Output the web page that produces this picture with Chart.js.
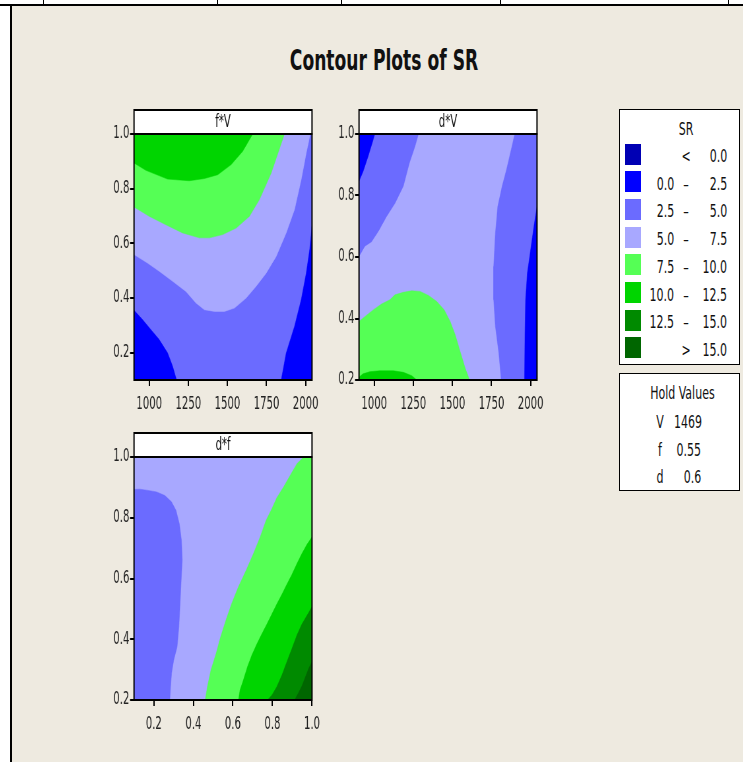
<!DOCTYPE html>
<html>
<head>
<meta charset="utf-8">
<script src="https://cdn.jsdelivr.net/npm/chart.js@4.4.1/dist/chart.umd.min.js"></script>
<style>
  body { margin: 0; width: 743px; height: 762px; position: relative; overflow: hidden; background: #fff;
         font-family: "Liberation Sans Narrow", "DejaVu Sans Condensed", sans-serif; color: #111; }
  #page { position: absolute; left: 11px; top: 6px; right: 0; bottom: 0; background: #EEEAE0; }
  .rule { position: absolute; background: #000; }
  canvas { position: absolute; transform-origin: 0 0; }
  #title { position: absolute; left: 0; width: 768px; top: 47px; text-align: center; font-size: 28px; line-height: 28px;
           font-weight: bold; transform: scaleX(0.68); transform-origin: 384px 0; white-space: nowrap; }
  .box { position: absolute; left: 619px; width: 119px; background: #fff; border: 1.5px solid #000; }
  .txt { position: absolute; font-size: 17px; line-height: 18px; white-space: nowrap; }
  .sw { position: absolute; width: 16px; height: 21px; }
</style>
</head>
<body>
<div id="page"></div>
<div class="rule" style="left:0;top:4px;width:743px;height:2px"></div>
<div class="rule" style="left:10px;top:4px;width:1.5px;height:758px"></div>
<div class="rule" style="left:43px;top:0;width:1px;height:5px"></div>
<div class="rule" style="left:217px;top:0;width:1px;height:5px"></div>
<div class="rule" style="left:341px;top:0;width:1px;height:5px"></div>
<div class="rule" style="left:500px;top:0;width:1px;height:5px"></div>
<div class="rule" style="left:728px;top:0;width:1px;height:5px"></div>
<div id="title">Contour Plots of SR</div>
<canvas id="fv"></canvas>
<canvas id="dv"></canvas>
<canvas id="df"></canvas>
<div class="box" id="legend" style="top:109px;height:254px"></div>
<div class="box" id="hold" style="top:373px;height:116px"></div>
<script>
// SR bands and colours
const srBreaks = ['0.0', '2.5', '5.0', '7.5', '10.0', '12.5', '15.0'];
const srColors = ['#0000B4', '#0000FF', '#6B6BFF', '#A8A8FF', '#55FF55', '#00D500', '#008A00', '#006600'];

// hold values
const holdNames = ['V', 'f', 'd'];
const holdValues = ['1469', '0.55', '0.6'];

// axis ranges and ticks
const vRange = [903, 2041];
const fRange = [0.1, 1.0];
const dRange = [0.2, 1.0];
const vTicks = [1000, 1250, 1500, 1750, 2000];
const fTicksY = [0.2, 0.4, 0.6, 0.8, 1.0];
const dTicks = [0.2, 0.4, 0.6, 0.8, 1.0];
const fTicksX = [0.2, 0.4, 0.6, 0.8, 1.0];

// f*V panel: contour regions (V, f)
const fvBase = [[903, 0.1], [2041, 0.1], [2041, 1.0], [903, 1.0]];
const fvBand3 = [[903, 0.559], [989, 0.528], [1064, 0.498], [1150, 0.461], [1235, 0.424], [1299, 0.382], [1353, 0.357],
  [1417, 0.351], [1481, 0.351], [1545, 0.363], [1620, 0.400], [1684, 0.443], [1748, 0.491], [1812, 0.552],
  [1876, 0.638], [1929, 0.723], [1972, 0.833], [2004, 0.930], [2030, 1.0], [903, 1.0]];
const fvBand4 = [[903, 0.733], [1000, 0.699], [1107, 0.668], [1214, 0.638], [1321, 0.620], [1385, 0.620], [1470, 0.632],
  [1556, 0.656], [1641, 0.699], [1705, 0.760], [1780, 0.857], [1865, 1.0], [903, 1.0]];
const fvBand5 = [[903, 0.894], [979, 0.867], [1118, 0.835], [1256, 0.829], [1353, 0.837], [1438, 0.851], [1524, 0.888],
  [1598, 0.937], [1662, 1.0], [903, 1.0]];
const fvLowLeft = [[903, 0.355], [957, 0.321], [1011, 0.284], [1064, 0.248], [1118, 0.199], [1150, 0.150], [1175, 0.1], [903, 0.1]];
const fvLowRight = [[1844, 0.1], [1876, 0.199], [1929, 0.296], [1972, 0.394], [2004, 0.491], [2026, 0.577], [2041, 0.662], [2041, 0.1]];

// d*V panel: contour regions (V, d)
const dvBase = [[903, 0.2], [2041, 0.2], [2041, 1.0], [903, 1.0]];
const dvMidLeft = [[903, 0.602], [940, 0.635], [983, 0.650], [1026, 0.683], [1079, 0.732], [1133, 0.775], [1186, 0.830],
  [1225, 0.906], [1261, 0.960], [1283, 1.0], [903, 1.0]];
const dvLowLeft = [[903, 0.846], [929, 0.878], [961, 0.927], [994, 0.982], [1004, 1.0], [903, 1.0]];
const dvMidRight = [[1899, 1.0], [1876, 0.949], [1846, 0.884], [1818, 0.830], [1790, 0.764], [1775, 0.678], [1764, 0.569],
  [1764, 0.461], [1775, 0.374], [1797, 0.287], [1812, 0.2], [2041, 0.2], [2041, 1.0]];
const dvLowRight = [[2041, 0.764], [2021, 0.699], [2000, 0.623], [1979, 0.547], [1968, 0.461], [1964, 0.352], [1961, 0.2], [2041, 0.2]];
const dvBand4 = [[903, 0.390], [940, 0.406], [994, 0.428], [1047, 0.447], [1101, 0.461], [1133, 0.477], [1186, 0.485],
  [1240, 0.490], [1293, 0.488], [1347, 0.475], [1400, 0.455], [1448, 0.428], [1486, 0.390], [1518, 0.347],
  [1550, 0.292], [1582, 0.238], [1610, 0.2], [903, 0.2]];
const dvBand5 = [[903, 0.209], [929, 0.220], [972, 0.227], [1036, 0.230], [1122, 0.230], [1186, 0.225], [1240, 0.214], [1272, 0.2], [903, 0.2]];

// d*f panel: contour regions (f, d)
const dfBase = [[0.1, 0.2], [1.0, 0.2], [1.0, 1.0], [0.1, 1.0]];
const dfMid = [[0.1, 0.893], [0.129, 0.894], [0.171, 0.890], [0.214, 0.885], [0.256, 0.873], [0.290, 0.852], [0.312, 0.825],
  [0.329, 0.781], [0.340, 0.726], [0.344, 0.661], [0.337, 0.573], [0.332, 0.507], [0.327, 0.441], [0.318, 0.375],
  [0.301, 0.332], [0.290, 0.288], [0.285, 0.244], [0.281, 0.2], [0.1, 0.2]];
const dfBand4 = [[0.958, 1.0], [0.924, 0.978], [0.890, 0.940], [0.856, 0.901], [0.822, 0.866], [0.797, 0.830], [0.768, 0.792],
  [0.738, 0.737], [0.704, 0.682], [0.667, 0.627], [0.628, 0.573], [0.594, 0.518], [0.565, 0.463], [0.538, 0.408],
  [0.515, 0.353], [0.489, 0.299], [0.471, 0.244], [0.460, 0.2], [1.0, 0.2], [1.0, 1.0]];
const dfBand5 = [[1.0, 0.737], [0.975, 0.713], [0.949, 0.682], [0.924, 0.649], [0.899, 0.614], [0.873, 0.581], [0.848, 0.548],
  [0.822, 0.516], [0.797, 0.483], [0.772, 0.450], [0.746, 0.417], [0.721, 0.384], [0.696, 0.348], [0.674, 0.310],
  [0.653, 0.266], [0.636, 0.233], [0.628, 0.2], [1.0, 0.2]];
const dfBand6 = [[1.0, 0.507], [0.975, 0.479], [0.949, 0.450], [0.924, 0.414], [0.899, 0.370], [0.873, 0.326], [0.848, 0.282],
  [0.822, 0.244], [0.797, 0.216], [0.775, 0.2], [1.0, 0.2]];
const dfBand7 = [[1.0, 0.326], [0.983, 0.304], [0.966, 0.275], [0.949, 0.246], [0.932, 0.224], [0.912, 0.2], [1.0, 0.2]];

const FONT = '"Liberation Sans Narrow", "DejaVu Sans Condensed", sans-serif';
// the canvases are drawn wide and squeezed horizontally so the text looks condensed like the original
const SQ = 0.66;

// header strip + box around the plot area
const panelFrame = {
  id: 'panelFrame',
  afterDraw(chart, args, opts) {
    const { ctx, chartArea: a } = chart;
    ctx.save();
    ctx.fillStyle = '#fff';
    ctx.fillRect(a.left, a.top - 24, a.width, 24);
    ctx.strokeStyle = '#000';
    ctx.lineWidth = 2;
    ctx.strokeRect(a.left, a.top - 24, a.width, 24);
    ctx.strokeRect(a.left, a.top, a.width, a.height);
    ctx.fillStyle = '#111';
    ctx.font = '17px ' + FONT;
    ctx.textAlign = 'center';
    ctx.textBaseline = 'middle';
    ctx.fillText(opts.text, (a.left + a.right) / 2, a.top - 11);
    ctx.restore();
  }
};

function axis(range, ticks, isX) {
  return {
    type: 'linear', min: range[0], max: range[1],
    afterBuildTicks: s => { s.ticks = ticks.map(v => ({ value: v })); },
    afterFit: s => { if (isX) s.height = 40; else s.width = 44 / SQ; },
    grid: { drawOnChartArea: false, drawTicks: true, tickLength: 6, color: '#000', lineWidth: 2 },
    border: { color: '#000', width: 2 },
    ticks: {
      color: '#222', padding: isX ? 8 : 1,
      font: { family: FONT, size: 17 },
      callback: v => isX && range[1] > 100 ? String(v) : v.toFixed(1)
    }
  };
}

function drawPanel(id, name, left, top, height, xRange, yRange, xTicks, yTicks, layers) {
  const cv = document.getElementById(id);
  const w = Math.round(240 / SQ);
  cv.width = w;
  cv.height = height;
  cv.style.left = left + 'px';
  cv.style.top = top + 'px';
  cv.style.transform = 'scaleX(' + SQ + ')';
  new Chart(cv, {
    type: 'line',
    data: {
      datasets: layers.map((l, i) => ({
        data: l[0].map(p => ({ x: p[0], y: p[1] })),
        backgroundColor: srColors[l[1]],
        borderColor: srColors[l[1]],
        borderWidth: 0.5,
        pointRadius: 0,
        tension: 0,
        fill: 'shape',
        order: layers.length - i
      }))
    },
    options: {
      responsive: false,
      animation: false,
      layout: { padding: { top: 29, right: w - 44 / SQ - 178 / SQ, left: 0, bottom: 0 } },
      plugins: { legend: { display: false }, tooltip: { enabled: false }, panelFrame: { text: name } },
      scales: { x: axis(xRange, xTicks, true), y: axis(yRange, yTicks, false) }
    },
    plugins: [panelFrame]
  });
}

drawPanel('fv', 'f*V', 90, 105, 315, vRange, fRange, vTicks, fTicksY, [
  [fvBase, 2], [fvBand3, 3], [fvBand4, 4], [fvBand5, 5], [fvLowLeft, 1], [fvLowRight, 1]
]);
drawPanel('dv', 'd*V', 315, 105, 315, vRange, dRange, vTicks, dTicks, [
  [dvBase, 3], [dvMidLeft, 2], [dvLowLeft, 1], [dvMidRight, 2], [dvLowRight, 1], [dvBand4, 4], [dvBand5, 5]
]);
drawPanel('df', 'd*f', 90, 428, 312, fRange, dRange, fTicksX, dTicks, [
  [dfBase, 3], [dfMid, 2], [dfBand4, 4], [dfBand5, 5], [dfBand6, 6], [dfBand7, 7]
]);

// legend boxes (coordinates relative to the box)
function addText(parent, text, x, y, align) {
  const el = document.createElement('div');
  el.className = 'txt';
  el.textContent = text;
  el.style.top = (y - 9) + 'px';
  el.style.transform = 'scaleX(0.72)';
  if (align === 'right') {
    el.style.right = (119 - x) + 'px';
    el.style.transformOrigin = '100% 50%';
  } else {
    el.style.left = (x - 40) + 'px';
    el.style.width = '80px';
    el.style.textAlign = 'center';
    el.style.transformOrigin = '50% 50%';
  }
  parent.appendChild(el);
}
const legend = document.getElementById('legend');
addText(legend, 'SR', 66, 19, 'center');
srColors.forEach((c, i) => {
  const y = 46 + i * 27.7;
  const sw = document.createElement('div');
  sw.className = 'sw';
  sw.style.left = '4.5px';
  sw.style.top = (33.5 + i * 27.7) + 'px';
  sw.style.background = c;
  legend.appendChild(sw);
  if (i === 0) {
    addText(legend, '<', 66, y, 'center');
    addText(legend, srBreaks[0], 107, y, 'right');
  } else if (i === srColors.length - 1) {
    addText(legend, '>', 66, y, 'center');
    addText(legend, srBreaks[srBreaks.length - 1], 107, y, 'right');
  } else {
    addText(legend, srBreaks[i - 1], 54, y, 'right');
    addText(legend, '\u2013', 65.5, y, 'center');
    addText(legend, srBreaks[i], 107, y, 'right');
  }
});

const hold = document.getElementById('hold');
addText(hold, 'Hold Values', 59, 19, 'center');
holdNames.forEach((n, i) => {
  const y = 48 + i * 27.5;
  addText(hold, n, 39.5, y, 'center');
  addText(hold, holdValues[i], 81.5, y, 'right');
});
</script>
</body>
</html>
